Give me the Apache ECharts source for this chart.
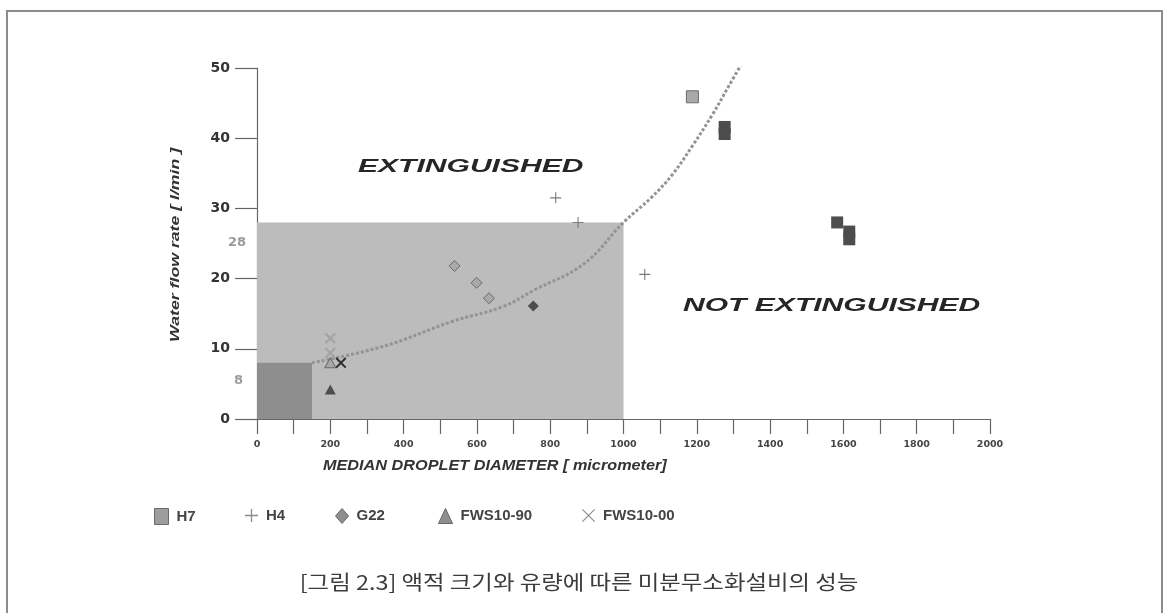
<!DOCTYPE html>
<html>
<head>
<meta charset="utf-8">
<script src="https://cdn.jsdelivr.net/npm/echarts@6/dist/echarts.min.js"></script>
<style>
  html, body { margin: 0; padding: 0; background: #fff; }
  #chart { width: 1163px; height: 613px; }
</style>
</head>
<body>
<div id="chart"></div>
<script>
// Test points: [median droplet diameter (micrometer), water flow rate (l/min)]
const h7 = [[1188, 45.9], [1276, 41.6], [1276, 40.6], [1583, 28.0], [1616, 26.7], [1616, 25.6]];
const h4 = [[815, 31.5], [876, 28.0], [1058, 20.6]];
const g22 = [[539, 21.8], [599, 19.4], [633, 17.2], [754, 16.1]];
const fws1090 = [[200, 8.0], [200, 4.2]];
const fws1000 = [[200, 11.5], [200, 9.4], [229, 8.0]];

// Extinguishing boundary curve
const boundary = [[150, 8], [348, 10.4], [533, 13.9], [671, 16.0], [754, 18.3], [892, 22.1],
                  [1000, 28], [1077, 31.6], [1133, 34.8], [1188, 38.9], [1243, 43.4], [1287, 47.4], [1320, 50.4]];

// Shaded limits: [max diameter, max flow rate]
const envelope = [1000, 28];
const h7Zone = [150, 8];

const seriesNames = ['H7', 'H4', 'G22', 'FWS10-90', 'FWS10-00'];
const yTickLabels = ['0', '10', '20', '30', '40', '50'];

// Which points of each series are drawn dark
const darkIdx = { h7: [1, 2, 3, 4, 5], g22: [3], fws1090: [1], fws1000: [2] };

const PLUS = 'path://M4.5,0H5.5V10H4.5Z M0,4.5H10V5.5H0Z';
const CROSS = 'path://M1.3,0L10,8.7L8.7,10L0,1.3Z M8.7,0L10,1.3L1.3,10L0,8.7Z';
const CROSS_THIN = 'path://M0.6,0L10,9.4L9.4,10L0,0.6Z M9.4,0L10,0.6L0.6,10L0,9.4Z';

const lightStyle = { color: '#a9a9a9', borderColor: '#6a6a6a', borderWidth: 1, opacity: 1 };
const darkStyle = { color: '#4d4d4d', borderWidth: 0, opacity: 1 };

function styled(points, dark, light, darkS) {
  return points.map((p, i) => ({
    value: p,
    itemStyle: dark.includes(i) ? (darkS || darkStyle) : (light || lightStyle)
  }));
}

const FONT = '"DejaVu Sans", sans-serif';
const ARIAL = '"Liberation Sans", Arial, sans-serif';

const chart = echarts.init(document.getElementById('chart'), null, { renderer: 'canvas' });

function legendAt(name, left, icon, itemStyle, w, h) {
  return {
    data: [name], left: left, top: 503, icon: icon,
    itemWidth: w || 14, itemHeight: h || 14, itemGap: 0,
    itemStyle: Object.assign({ opacity: 1 }, itemStyle),
    textStyle: { fontFamily: ARIAL, fontWeight: 'bold', fontSize: 15, color: '#444', padding: [0, 0, 0, 3] },
    selectedMode: false
  };
}

chart.setOption({
  backgroundColor: '#ffffff',
  animation: false,
  grid: { left: 257, top: 68, right: 173, bottom: 194 },
  xAxis: {
    type: 'value', min: 0, max: 2000, interval: 100,
    axisLine: { show: true, onZero: false, lineStyle: { color: '#666', width: 1.2 } },
    axisTick: { show: true, length: 15, lineStyle: { color: '#666', width: 1.2 } },
    splitLine: { show: false },
    axisLabel: {
      margin: 21, fontFamily: FONT, fontWeight: 'bold', fontSize: 9.5, color: '#444',
      formatter: v => (v % 200 === 0 ? String(v) : '')
    }
  },
  yAxis: {
    type: 'value', min: 0, max: 50, interval: 10,
    axisLine: { show: true, onZero: false, lineStyle: { color: '#666', width: 1.2 } },
    axisTick: { show: true, length: 22, lineStyle: { color: '#666', width: 1.2 } },
    splitLine: { show: false },
    axisLabel: {
      margin: 27, fontFamily: FONT, fontWeight: 'bold', fontSize: 14, color: '#333',
      formatter: v => yTickLabels[v / 10]
    }
  },
  legend: [
    legendAt('H7', 149, 'rect', { color: '#9d9d9d', borderColor: '#6a6a6a', borderWidth: 1 }, 14, 16),
    legendAt('H4', 240, PLUS, { color: '#8a8a8a', borderWidth: 0 }, 13, 13),
    legendAt('G22', 330, 'diamond', { color: '#8f8f8f', borderColor: '#666', borderWidth: 1 }, 13, 15),
    legendAt('FWS10-90', 433, 'triangle', { color: '#8f8f8f', borderColor: '#666', borderWidth: 1 }, 14, 15),
    legendAt('FWS10-00', 577, CROSS_THIN, { color: '#8a8a8a', borderWidth: 0 }, 13, 14)
  ],
  series: [
    {
      name: 'zones', type: 'scatter', data: [], z: 1, silent: true,
      markArea: {
        silent: true,
        data: [
          [{ coord: [0, 0], itemStyle: { color: '#bcbcbc', opacity: 1 } }, { coord: envelope }],
          [{ coord: [0, 0], itemStyle: { color: '#8e8e8e', opacity: 1 } }, { coord: h7Zone }]
        ]
      }
    },
    {
      name: 'boundary', type: 'line', data: boundary, smooth: 0.4, symbol: 'none', z: 2,
      lineStyle: { color: '#939393', width: 3, type: [3, 2] }
    },
    {
      name: 'H7', type: 'scatter', symbol: 'rect', symbolSize: 12, z: 3,
      data: styled(h7, darkIdx.h7)
    },
    {
      name: 'H4', type: 'scatter', symbol: PLUS, symbolSize: 11, z: 3,
      itemStyle: { color: '#7a7a7a', borderWidth: 0, opacity: 1 },
      data: h4
    },
    {
      name: 'G22', type: 'scatter', symbol: 'diamond', symbolSize: [11, 11], z: 3,
      data: styled(g22, darkIdx.g22)
    },
    {
      name: 'FWS10-90', type: 'scatter', symbol: 'triangle', symbolSize: [11, 10], z: 3,
      data: styled(fws1090, darkIdx.fws1090)
    },
    {
      name: 'FWS10-00', type: 'scatter', symbol: CROSS, symbolSize: 11, z: 3,
      data: styled(fws1000, darkIdx.fws1000,
        { color: '#a3a3a3', borderWidth: 0, opacity: 1 }, { color: '#2e2e2e', borderWidth: 0, opacity: 1 })
    }
  ],
  graphic: [
    {
      type: 'rect', silent: true, z: 0,
      shape: { x: 7, y: 11, width: 1155, height: 640 },
      style: { fill: 'none', stroke: '#8c8c8c', lineWidth: 2 }
    },
    {
      type: 'text', x: 175, y: 245, rotation: Math.PI / 2, scaleX: 1.36, silent: true,
      style: { text: 'Water flow rate [ l/min ]', fontFamily: ARIAL, fontWeight: 'bold', fontStyle: 'italic',
               fontSize: 13, fill: '#333', align: 'center', verticalAlign: 'middle' }
    },
    {
      type: 'text', x: 358, y: 167, scaleX: 1.67, silent: true,
      style: { text: 'EXTINGUISHED', fontFamily: ARIAL, fontWeight: 'bold', fontStyle: 'italic',
               fontSize: 18, fill: '#262626', align: 'left', verticalAlign: 'middle' }
    },
    {
      type: 'text', x: 683, y: 306, scaleX: 1.67, silent: true,
      style: { text: 'NOT EXTINGUISHED', fontFamily: ARIAL, fontWeight: 'bold', fontStyle: 'italic',
               fontSize: 18, fill: '#262626', align: 'left', verticalAlign: 'middle' }
    },
    {
      type: 'text', x: 246, y: 243, silent: true,
      style: { text: String(envelope[1]), fontFamily: FONT, fontWeight: 'bold', fontSize: 13,
               fill: '#9a9a9a', align: 'right', verticalAlign: 'middle' }
    },
    {
      type: 'text', x: 243, y: 381, silent: true,
      style: { text: String(h7Zone[1]), fontFamily: FONT, fontWeight: 'bold', fontSize: 13,
               fill: '#9a9a9a', align: 'right', verticalAlign: 'middle' }
    },
    {
      type: 'text', x: 323, y: 466, scaleX: 1.16, silent: true,
      style: { text: 'MEDIAN DROPLET DIAMETER [ micrometer]', fontFamily: ARIAL, fontWeight: 'bold',
               fontStyle: 'italic', fontSize: 14, fill: '#333', align: 'left', verticalAlign: 'middle' }
    },
    {
      type: 'text', x: 579, y: 582, scaleX: 1.17, silent: true,
      style: { text: '[그림 2.3] 액적 크기와 유량에 따른 미분무소화설비의 성능',
               fontFamily: '"Noto Sans CJK KR", sans-serif', fontSize: 20, fill: '#3c3c3c',
               align: 'center', verticalAlign: 'middle' }
    }
  ]
});
</script>
</body>
</html>
